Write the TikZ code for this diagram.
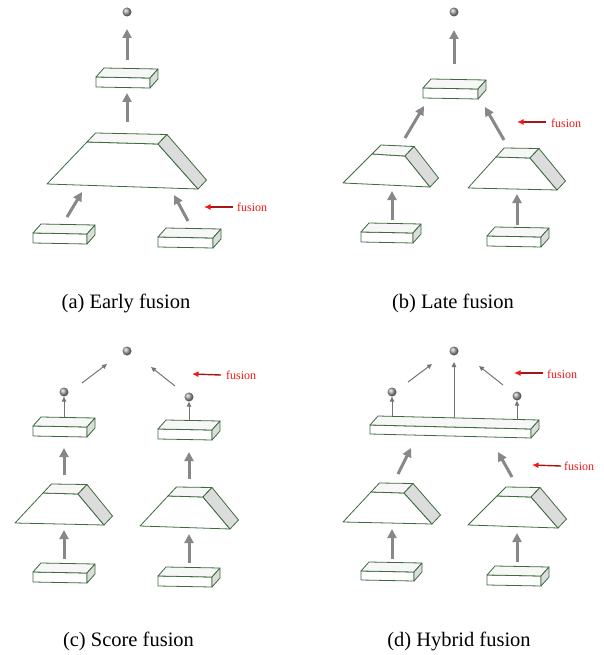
\documentclass[tikz,border=0pt]{standalone}
\usepackage{fontspec}
\setmainfont{Liberation Serif}
\usetikzlibrary{arrows.meta,calc}

\definecolor{edgegreen}{HTML}{3E6B3E}
\definecolor{sidegray}{HTML}{DCDCDC}
\definecolor{topgray}{HTML}{F7F7F7}
\definecolor{flowgray}{HTML}{888888}
\definecolor{fusedark}{HTML}{A81515}
\definecolor{fusered}{HTML}{F01818}

\tikzset{
  face/.style={draw=edgegreen, line width=0.8pt, line join=round},
  bigflow/.style={draw=flowgray, line width=3pt, -{Triangle[length=9pt,width=9pt]}},
  thinflow/.style={draw=flowgray!85!black, line width=1pt, -{Triangle[length=5pt,width=4.5pt]}},
  fusearrow/.style={draw=fusedark, line width=1.4pt, -{Latex[length=6.5pt,width=6pt,color=fusered]}},
  fuselabel/.style={text=fusered, font=\fontsize{12}{12}\selectfont, anchor=west, inner sep=0pt},
  caption/.style={font=\fontsize{20.5}{20.5}\selectfont, anchor=base, inner sep=0pt},
  outnode/.style={circle, inner sep=0pt, minimum size=9pt, shading=ball, ball color=gray!70},
}

% flat slab: front top-left corner (x,y), width, height, tilt of the front edge
\newcommand{\mkslab}[5]{%
  \fill[white,face] (#1,#2) -- (#1+#3,#2+#5) -- (#1+#3,#2+#5+#4) -- (#1,#2+#4) -- cycle;
  \fill[topgray,face] (#1,#2) -- (#1+8,#2-9) -- (#1+#3+8,#2+#5-9) -- (#1+#3,#2+#5) -- cycle;
  \fill[sidegray,face] (#1+#3,#2+#5) -- (#1+#3+8,#2+#5-9) -- (#1+#3+8,#2+#5+#4-9) -- (#1+#3,#2+#5+#4) -- cycle;
}

% truncated pyramid: bottom-left, bottom-right, top-front-left, top-front-right
\newcommand{\mkfrustum}[8]{%
  \coordinate (fE) at (#1,#2);
  \coordinate (fF) at (#3,#4);
  \coordinate (fA) at (#5,#6);
  \coordinate (fB) at (#7,#8);
  \coordinate (fC) at ($(fA)!{-9/(#2-#6)}!(fE)$);
  \coordinate (fD) at ($(fB)+(9,-9.5)$);
  \coordinate (fG) at ($(fF)+(8.5,-9)$);
  \fill[white,face] (fE) -- (fA) -- (fB) -- (fF) -- cycle;
  \fill[topgray,face] (fA) -- (fC) -- (fD) -- (fB) -- cycle;
  \fill[sidegray,face] (fB) -- (fD) -- (fG) -- (fF) -- cycle;
}

\begin{document}
\begin{tikzpicture}[x=1pt,y=-1pt]
\useasboundingbox (0,0) rectangle (603,655);

%% ---------- (a) early fusion ----------
\mkslab{33}{233}{54}{10}{1}
\mkslab{158}{237}{55}{10}{1}
\mkfrustum{47}{184}{198}{189}{87}{142}{158}{144}
\mkslab{96}{77}{54}{10}{1}
\node[outnode] (aout) at (127,12) {};
\coordinate (a1s) at (67,217);  \coordinate (a1e) at (82,192);
\coordinate (a2s) at (188,221); \coordinate (a2e) at (174,195);
\coordinate (a3s) at (127,122); \coordinate (a3e) at (127,93);
\coordinate (a4s) at (127,60);  \coordinate (a4e) at (127,29);
\draw[bigflow] (a1s) -- (a1e);
\draw[bigflow] (a2s) -- (a2e);
\draw[bigflow] (a3s) -- (a3e);
\draw[bigflow] (a4s) -- (a4e);
\node[fuselabel] (afuse) at (237,207) {fusion};
\coordinate (afs) at (233,207);
\draw[fusearrow] (afs) -- ++(-29,0);
\node[caption] (acap) at (126,308) {(a) Early fusion};

%% ---------- (b) late fusion ----------
\mkslab{361}{232}{52}{10}{1}
\mkslab{487}{236}{54}{10}{1}
\mkfrustum{343}{183}{430}{187}{372}{154}{405}{156}
\mkfrustum{468}{188}{557}{190}{496}{157}{530}{158}
\mkslab{423}{88}{55}{10}{1}
\node[outnode] (bout) at (454,12) {};
\coordinate (b1s) at (392,220); \coordinate (b1e) at (392,191);
\coordinate (b2s) at (517,225); \coordinate (b2e) at (517,194);
\coordinate (b3s) at (405,138); \coordinate (b3e) at (424,106);
\coordinate (b4s) at (504,140); \coordinate (b4e) at (485,107);
\coordinate (b5s) at (454,64);  \coordinate (b5e) at (454,30);
\draw[bigflow] (b1s) -- (b1e);
\draw[bigflow] (b2s) -- (b2e);
\draw[bigflow] (b3s) -- (b3e);
\draw[bigflow] (b4s) -- (b4e);
\draw[bigflow] (b5s) -- (b5e);
\node[fuselabel] (bfuse) at (551,123) {fusion};
\coordinate (bfs) at (546,122);
\draw[fusearrow] (bfs) -- ++(-29,0);
\node[caption] (bcap) at (453,308) {(b) Late fusion};

%% ---------- (c) score fusion ----------
\mkslab{33}{572}{54}{10}{1}
\mkslab{158}{576}{54}{10}{1}
\mkfrustum{15}{523}{104}{525}{43}{493}{78}{494}
\mkfrustum{140}{526}{230}{529}{168}{496}{203}{497}
\mkslab{33}{426}{54}{10}{1}
\mkslab{158}{429}{54}{10}{1}
\node[outnode] (cout) at (127,351) {};
\node[outnode] (cleft) at (64,392) {};
\node[outnode] (cright) at (189,397) {};
\coordinate (c1s) at (64,559);  \coordinate (c1e) at (64,530);
\coordinate (c2s) at (189,563); \coordinate (c2e) at (189,534);
\coordinate (c3s) at (64,475);  \coordinate (c3e) at (64,448);
\coordinate (c4s) at (189,479); \coordinate (c4e) at (189,452);
\coordinate (c5s) at (64,417);  \coordinate (c6s) at (189,420);
\coordinate (c7s) at (82,383);  \coordinate (c7e) at (107,364);
\coordinate (c8s) at (175,386); \coordinate (c8e) at (151,367);
\draw[bigflow] (c1s) -- (c1e);
\draw[bigflow] (c2s) -- (c2e);
\draw[bigflow] (c3s) -- (c3e);
\draw[bigflow] (c4s) -- (c4e);
\draw[thinflow] (c5s) -- (cleft);
\draw[thinflow] (c6s) -- (cright);
\draw[thinflow] (c7s) -- (c7e);
\draw[thinflow] (c8s) -- (c8e);
\node[fuselabel] (cfuse) at (226,375) {fusion};
\coordinate (cfs) at (221,375);
\draw[fusearrow] (cfs) -- ++(-29,-1);
\node[caption] (ccap) at (128.5,646) {(c) Score fusion};

%% ---------- (d) hybrid fusion ----------
\mkslab{361}{571}{53}{9}{1}
\mkslab{487}{575}{54}{10}{1}
\mkfrustum{343}{522}{432}{524}{371}{492}{404}{493}
\mkfrustum{468}{525}{558}{528}{497}{496}{531}{497}
\mkslab{370}{425}{161}{9}{4}
\node[outnode] (dout) at (454,351) {};
\node[outnode] (dleft) at (392,392) {};
\node[outnode] (dright) at (517,396) {};
\coordinate (d1s) at (392,559); \coordinate (d1e) at (392,529);
\coordinate (d2s) at (517,562); \coordinate (d2e) at (517,533);
\coordinate (d3s) at (398,474); \coordinate (d3e) at (411,448);
\coordinate (d4s) at (512,477); \coordinate (d4e) at (498,452);
\coordinate (d5s) at (392,416); \coordinate (d6s) at (517,420);
\coordinate (d7s) at (454,418); \coordinate (d7e) at (454,362);
\coordinate (d8s) at (408,382); \coordinate (d8e) at (432,364);
\coordinate (d9s) at (503,385); \coordinate (d9e) at (479,366);
\draw[bigflow] (d1s) -- (d1e);
\draw[bigflow] (d2s) -- (d2e);
\draw[bigflow] (d3s) -- (d3e);
\draw[bigflow] (d4s) -- (d4e);
\draw[thinflow] (d5s) -- (dleft);
\draw[thinflow] (d6s) -- (dright);
\draw[thinflow] (d7s) -- (d7e);
\draw[thinflow] (d8s) -- (d8e);
\draw[thinflow] (d9s) -- (d9e);
\node[fuselabel] (dfuse1) at (547,374) {fusion};
\coordinate (dfs1) at (543,373);
\draw[fusearrow] (dfs1) -- ++(-29,0);
\node[fuselabel] (dfuse2) at (564,466) {fusion};
\coordinate (dfs2) at (561,466);
\draw[fusearrow] (dfs2) -- ++(-29,-1);
\node[caption] (dcap) at (459,646) {(d) Hybrid fusion};
\end{tikzpicture}
\end{document}
